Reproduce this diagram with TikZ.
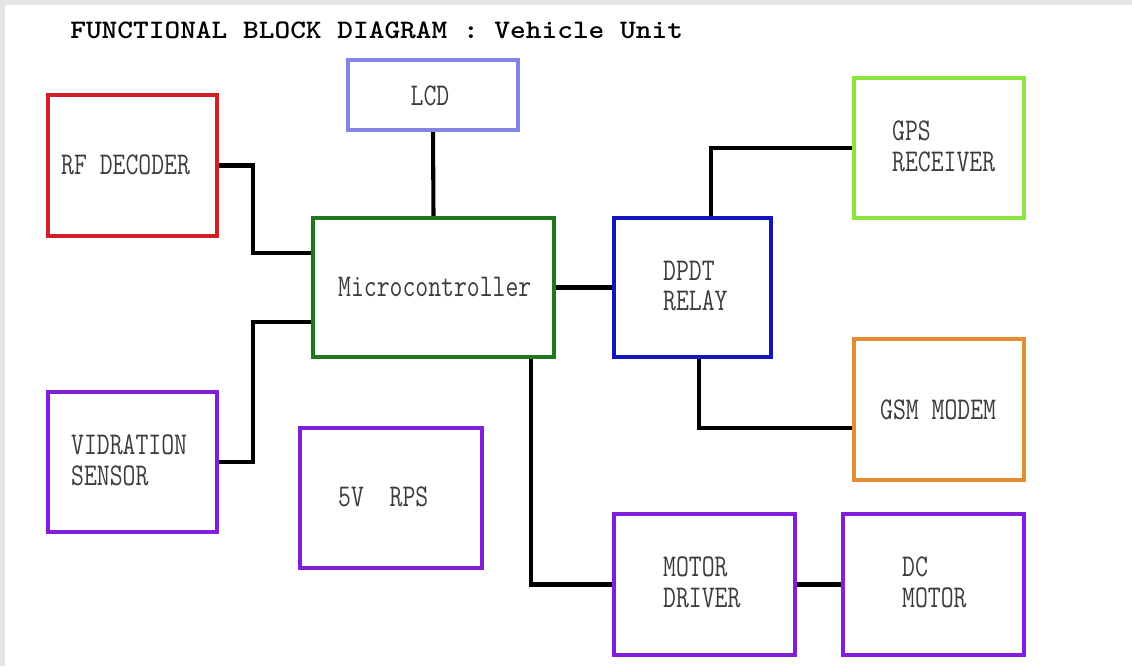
\documentclass[tikz,border=0pt]{standalone}
\usepackage{fontspec}
\usepackage{tikz}
\usetikzlibrary{positioning}

\definecolor{rfred}{RGB}{212,28,36}
\definecolor{lcdblue}{RGB}{132,132,228}
\definecolor{mcgreen}{RGB}{30,120,32}
\definecolor{relayblue}{RGB}{20,20,188}
\definecolor{gpsgreen}{RGB}{140,228,60}
\definecolor{gsmorange}{RGB}{230,140,50}
\definecolor{blkpurple}{RGB}{128,30,220}
\definecolor{txtgray}{RGB}{60,60,60}

\begin{document}
\begin{tikzpicture}[
	x=0.025cm, y=-0.025cm,
	blk/.style={draw=#1, line width=2.9pt, inner sep=0pt},
	wh/.style 2 args={minimum width=#1*0.025cm, minimum height=#2*0.025cm},
	txt/.style={font=\ttfamily\fontsize{22.5}{22}\selectfont, text=txtgray, xscale=0.79, align=left, inner sep=0pt},
	wire/.style={line width=2.9pt, black}
]
\useasboundingbox (0,0) rectangle (1132,666);
\fill[black!10] (0,0) rectangle (1132,666);
\fill[white] (5,5) rectangle (1132,666);

\node[anchor=west, inner sep=0pt, xscale=1.12, font=\ttfamily\bfseries\fontsize{19}{20}\selectfont] (title) at (70,30) {FUNCTIONAL BLOCK DIAGRAM : Vehicle Unit};

% blocks
\node[blk=rfred, wh={169}{141}] (rf) at (132.5,165.5) {};
\node[blk=lcdblue, wh={170}{70}] (lcd) at (433,95) {};
\node[blk=mcgreen, wh={241}{139}] (mc) at (433.5,287.5) {};
\node[blk=relayblue, wh={157}{139}] (relay) at (692.5,287.5) {};
\node[blk=gpsgreen, wh={170}{140}] (gps) at (939,148) {};
\node[blk=gsmorange, wh={170}{141}] (gsm) at (939,409.5) {};
\node[blk=blkpurple, wh={169}{140}] (vib) at (132.5,462) {};
\node[blk=blkpurple, wh={182}{140}] (rps) at (391,498) {};
\node[blk=blkpurple, wh={181}{141}] (drv) at (704.5,584.5) {};
\node[blk=blkpurple, wh={181}{141}] (dcm) at (933.5,584.5) {};

% labels
\node[txt, anchor=west] (rftxt) at (61,165) {RF DECODER};
\node[txt] (lcdtxt) at (430,96) {LCD};
\node[txt, anchor=west] (mctxt) at (338,287) {Microcontroller};
\node[txt, anchor=west] (relaytxt) at (663,286) {DPDT\\RELAY};
\node[txt, anchor=west] (gpstxt) at (892,146.5) {GPS\\RECEIVER};
\node[txt, anchor=west] (gsmtxt) at (880,410) {GSM MODEM};
\node[txt, anchor=west] (vibtxt) at (71,460) {VIDRATION\\SENSOR};
\node[txt, anchor=west] (rpstxt) at (338,497) {5V\ \ RPS};
\node[txt, anchor=west] (drvtxt) at (663,582.5) {MOTOR\\DRIVER};
\node[txt, anchor=west] (dcmtxt) at (902,582.5) {DC\\MOTOR};

% bends
\coordinate (jrf) at (253,253);
\coordinate (jvib) at (253,322);
\coordinate (jgps) at (711,148);
\coordinate (jgsm) at (699,428);
\coordinate (jdrv) at (531,584.5);

\draw[wire] (rf.east) -| (jrf) -- (jrf -| mc.west);
\draw[wire] (vib.east) -| (jvib) -- (jvib -| mc.west);
\draw[wire] (lcd.south) -- (mc.north);
\draw[wire] (mc.east) -- (relay.west);
\draw[wire] (jgps |- relay.north) -- (jgps) -- (gps.west);
\draw[wire] (jgsm |- relay.south) -- (jgsm) -- (jgsm -| gsm.west);
\draw[wire] (jdrv |- mc.south) -- (jdrv) -- (drv.west);
\draw[wire] (drv.east) -- (dcm.west);
\end{tikzpicture}
\end{document}
